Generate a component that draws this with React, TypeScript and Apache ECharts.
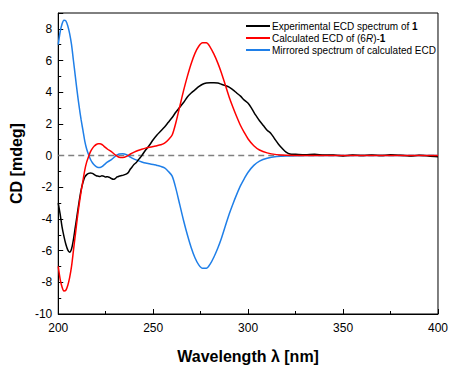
import React, { useEffect, useRef } from "react";
import * as echarts from "echarts";

const wavelengthsCalc = [200,201,202,203,204,205,206,207,208,209,210,211,212,213,214,215,216,217,218,219,220,221,222,223,224,226,228,230,232,234,236,238,240,242,244,246,248,250,252,254,256,258,260,262,264,266,268,270,272,274,276,278,280,282,284,286,288,290,292,294,296,298,300,303,306,310,315,320,330,350,370,400];
const calculated = [-7.0,-7.8,-8.3,-8.55,-8.5,-8.2,-7.7,-7.0,-6.0,-5.0,-4.0,-3.1,-2.3,-1.6,-0.9,-0.4,-0.05,0.25,0.45,0.6,0.7,0.75,0.75,0.7,0.6,0.4,0.25,0.05,-0.1,-0.12,-0.05,0.1,0.22,0.32,0.4,0.47,0.52,0.57,0.62,0.68,0.78,1.0,1.3,2.1,3.1,4.1,5.0,5.8,6.45,6.9,7.12,7.12,6.85,6.4,5.85,5.2,4.45,3.7,3.05,2.45,1.9,1.45,1.05,0.62,0.35,0.17,0.06,0.02,0.0,0.0,0.0,0.0];
const mirrored = [7.0,7.8,8.3,8.55,8.5,8.2,7.7,7.0,6.0,5.0,4.0,3.1,2.3,1.6,0.9,0.4,0.05,-0.25,-0.45,-0.6,-0.7,-0.75,-0.75,-0.7,-0.6,-0.4,-0.25,-0.05,0.1,0.12,0.05,-0.1,-0.22,-0.32,-0.4,-0.47,-0.52,-0.57,-0.62,-0.68,-0.78,-1.0,-1.3,-2.1,-3.1,-4.1,-5.0,-5.8,-6.45,-6.9,-7.12,-7.12,-6.85,-6.4,-5.85,-5.2,-4.45,-3.7,-3.05,-2.45,-1.9,-1.45,-1.05,-0.62,-0.35,-0.17,-0.06,-0.02,0.0,0.0,0.0,0.0];

const wavelengthsExp = [200,201,202,203,204,205,206,207,208,209,210,211,212,213,214,215,216,217,218,219,220,221,222,223,224,225,226,227,228,229,230,231,232,233,234,235,236,237,238,239,240,241,242,243,244,246,248,250,252,254,256,258,260,262,264,266,268,270,272,274,276,278,280,282,284,286,288,290,292,294,296,298,300,302,304,306,308,310,312,314,316,318,320,322,325,330,335,340,345,350,355,360,365,370,375,380,385,390,395,400];
const experimental = [-3.0,-3.7,-4.5,-5.1,-5.6,-5.95,-6.1,-5.9,-5.3,-4.5,-3.7,-2.9,-2.2,-1.7,-1.35,-1.2,-1.12,-1.1,-1.12,-1.2,-1.27,-1.3,-1.32,-1.28,-1.3,-1.35,-1.33,-1.38,-1.45,-1.5,-1.45,-1.35,-1.3,-1.27,-1.25,-1.2,-1.15,-1.05,-0.85,-0.7,-0.55,-0.45,-0.3,-0.15,0.0,0.35,0.65,1.0,1.3,1.55,1.8,2.1,2.4,2.75,3.05,3.35,3.7,3.95,4.15,4.35,4.5,4.58,4.6,4.6,4.58,4.5,4.42,4.32,4.15,3.95,3.75,3.5,3.3,2.95,2.55,2.2,1.9,1.6,1.4,1.05,0.72,0.45,0.22,0.1,0.08,0.05,0.08,0.03,0.04,-0.02,0.03,0.0,0.04,0.0,0.05,0.02,-0.03,0.02,-0.02,-0.08];

const baselineX = [200, 400];
const baselineY = [0, 0];

const xTicks = { min: 200, max: 400, interval: 50 };
const yTicks = { min: -10, max: 9, interval: 2 };

const seriesNames = [
  "Experimental ECD spectrum of 1",
  "Calculated ECD of (6R)-1",
  "Mirrored spectrum of calculated ECD",
];
const legendRich: Record<string, string> = {
  "Experimental ECD spectrum of 1": "Experimental ECD spectrum of {b|1}",
  "Calculated ECD of (6R)-1": "Calculated ECD of (6{i|R})-{b|1}",
  "Mirrored spectrum of calculated ECD": "Mirrored spectrum of calculated ECD",
};

const FONT = "'Liberation Sans', Arial, sans-serif";

export default function App() {
  const ref = useRef<HTMLDivElement>(null);
  useEffect(() => {
    if (!ref.current) return;
    const chart = echarts.init(ref.current, null, { renderer: "svg" });
    const zip = (xs: number[], ys: number[]) => xs.map((x, i) => [x, ys[i]]);
    chart.setOption({
      animation: false,
      backgroundColor: "#fff",
      textStyle: { fontFamily: FONT },
      grid: {
        left: 58,
        right: 12,
        top: 13,
        bottom: 51,
        show: true,
        borderColor: "#000",
        borderWidth: 1,
        backgroundColor: "transparent",
      },
      legend: {
        data: seriesNames,
        orient: "vertical",
        left: 241,
        top: 16,
        itemWidth: 24,
        itemHeight: 2,
        itemGap: 2,
        icon: "rect",
        formatter: (n: string) => legendRich[n] || n,
        textStyle: {
          fontFamily: FONT,
          fontSize: 10,
          color: "#000",
          padding: [0, 0, 0, -3],
          rich: {
            b: { fontWeight: "bold", fontSize: 10, fontFamily: FONT, color: "#000" },
            i: { fontStyle: "italic", fontSize: 10, fontFamily: FONT, color: "#000" },
          },
        },
      },
      xAxis: {
        type: "value",
        min: xTicks.min,
        max: xTicks.max,
        interval: xTicks.interval,
        name: "Wavelength λ [nm]",
        nameLocation: "middle",
        nameGap: 34,
        nameTextStyle: { fontFamily: FONT, fontSize: 16, fontWeight: "bold", color: "#000" },
        axisLine: { show: true, onZero: false, lineStyle: { color: "#000", width: 1 } },
        axisTick: { show: true, inside: true, length: 5, lineStyle: { color: "#000" } },
        minorTick: { show: true, splitNumber: 2, length: 3, lineStyle: { color: "#000" } },
        splitLine: { show: false },
        axisLabel: { fontFamily: FONT, fontSize: 12, color: "#000", margin: 8 },
      },
      yAxis: {
        type: "value",
        min: yTicks.min,
        max: yTicks.max,
        interval: yTicks.interval,
        name: "CD [mdeg]",
        nameLocation: "middle",
        nameGap: 24,
        nameTextStyle: { fontFamily: FONT, fontSize: 16, fontWeight: "bold", color: "#000" },
        axisLine: { show: true, onZero: false, lineStyle: { color: "#000", width: 1 } },
        axisTick: { show: true, inside: true, length: 5, lineStyle: { color: "#000" } },
        minorTick: { show: true, splitNumber: 2, length: 3, lineStyle: { color: "#000" } },
        splitLine: { show: false },
        axisLabel: { fontFamily: FONT, fontSize: 12, color: "#000", margin: 6, showMaxLabel: false },
      },
      series: [
        {
          name: "baseline",
          type: "line",
          data: zip(baselineX, baselineY),
          showSymbol: false,
          silent: true,
          lineStyle: { color: "#808080", width: 1.5, type: [6, 4] },
          z: 1,
        },
        {
          name: seriesNames[0],
          type: "line",
          data: zip(wavelengthsExp, experimental),
          showSymbol: false,
          smooth: 0.3,
          color: "#000",
          lineStyle: { color: "#000", width: 1.5 },
          z: 3,
        },
        {
          name: seriesNames[1],
          type: "line",
          data: zip(wavelengthsCalc, calculated),
          showSymbol: false,
          smooth: 0.3,
          color: "#ff0000",
          lineStyle: { color: "#ff0000", width: 1.5 },
          z: 4,
        },
        {
          name: seriesNames[2],
          type: "line",
          data: zip(wavelengthsCalc, mirrored),
          showSymbol: false,
          smooth: 0.3,
          color: "#1f7fe8",
          lineStyle: { color: "#1f7fe8", width: 1.5 },
          z: 2,
        },
      ],
    });
    return () => chart.dispose();
  }, []);
  return <div ref={ref} style={{ width: 451, height: 369, position: "absolute", left: 0, top: 0 }} />;
}
